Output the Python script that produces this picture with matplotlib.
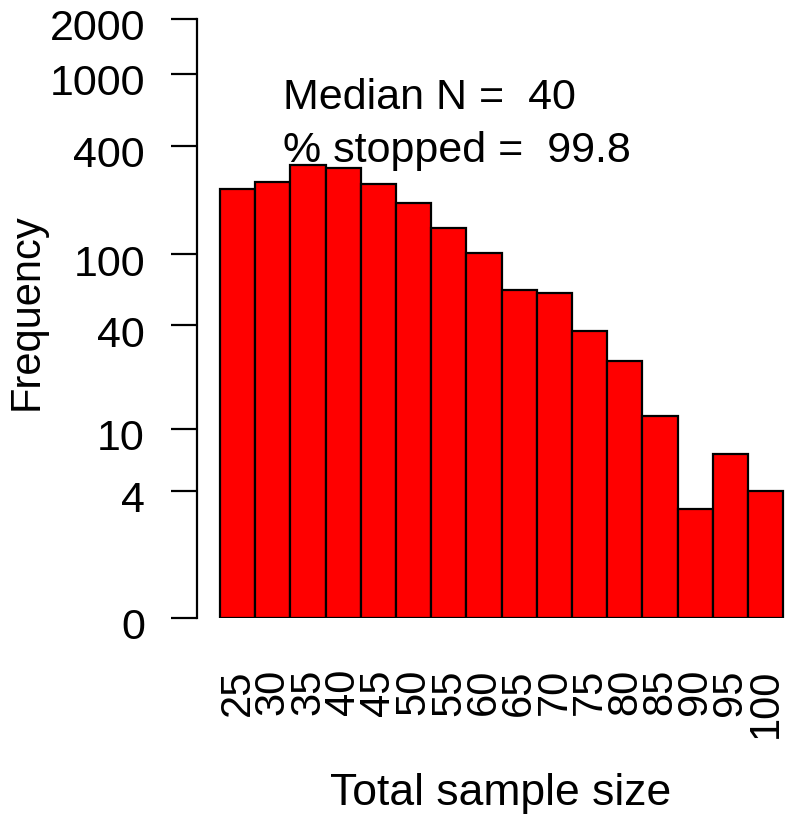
# Histogram of total sample sizes, y on a log10(count + 1) scale (R-style look)

import numpy as np
import matplotlib
matplotlib.use('Agg')
import matplotlib.pyplot as plt
from matplotlib.transforms import ScaledTranslation

## Data
bin_centres = [25, 30, 35, 40, 45, 50, 55, 60, 65, 70, 75, 80, 85, 90, 95, 100]
counts = [229, 252, 312, 300, 246, 193, 140, 102, 63, 61, 37, 25, 12, 3, 7, 4]
y_ticks = [0, 4, 10, 40, 100, 400, 1000, 2000]
median_n = 40
pct_stopped = 99.8

plt.rcParams['font.family'] = ['Liberation Sans', 'DejaVu Sans']

W, H = 789, 817
fig = plt.figure(figsize=(W / 100, H / 100), dpi=100)

## Axes placed in pixel terms: y axis line at x=197, 0 at y=618, 2000 at y=19
left_px, right_px = 197.3, 789
bottom_px, top_px = 617.7, 19
ax = fig.add_axes([left_px / W, 1 - bottom_px / H,
                   (right_px - left_px) / W, (bottom_px - top_px) / H])

def fwd(v):
    return np.log10(np.asarray(v, dtype=float) + 1)

def inv(v):
    return 10 ** np.asarray(v, dtype=float) - 1

ax.set_yscale('function', functions=(fwd, inv))

lw = 1.6
ax.bar(bin_centres, counts, width=5, bottom=0, color='#FF0000',
       edgecolor='black', linewidth=lw, align='center')

# bars run 22.5 -> 102.5 from x=220 px to x=783 px
px_per_unit = (783.3 - 220) / 80
ax.set_xlim(22.5 - (220 - left_px) / px_per_unit,
            102.5 + (right_px - 783.3) / px_per_unit)
ax.set_ylim(0, 2000)

for s in ['top', 'right', 'bottom']:
    ax.spines[s].set_visible(False)
ax.spines['left'].set_linewidth(lw)
ax.spines['left'].set_bounds(0, 2000)

ax.set_yticks(y_ticks)
ax.set_yticklabels([str(t) for t in y_ticks])
ax.yaxis.set_minor_locator(matplotlib.ticker.NullLocator())
ax.tick_params(axis='y', length=18.7, width=lw, pad=19, labelsize=31)
# R puts these labels a few pixels below the tick
shift = ScaledTranslation(0, -6 / 100, fig.dpi_scale_trans)
for lab in ax.get_yticklabels():
    lab.set_transform(lab.get_transform() + shift)

ax.set_xticks(bin_centres)
ax.set_xticklabels([str(c) for c in bin_centres], rotation=90)
ax.tick_params(axis='x', length=0, pad=37, labelsize=30)

fig.text(27 / W, 1 - 311.5 / H, 'Frequency', fontsize=30, rotation=90,
         ha='center', va='center')
fig.text(501 / W, 1 - 805 / H, 'Total sample size', fontsize=32,
         ha='center', va='baseline')

fig.text(283 / W, 1 - 109 / H, 'Median N =  {0}'.format(median_n),
         fontsize=31, ha='left', va='baseline')
fig.text(283 / W, 1 - 162 / H, '% stopped =  {0}'.format(pct_stopped),
         fontsize=31, ha='left', va='baseline')

fig.savefig('out.png', dpi=100)
